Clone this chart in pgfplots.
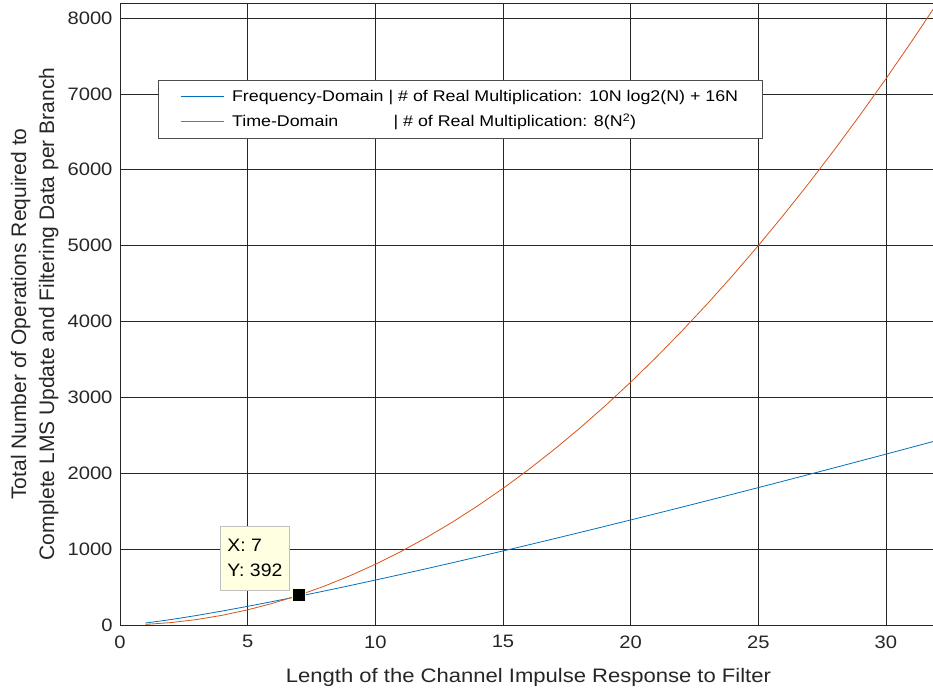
\documentclass[border=0pt]{standalone}
\usepackage{fontspec}
\setmainfont{Liberation Sans}
\newfontfamily\tickfont[FakeStretch=1.12]{Liberation Sans}
\newfontfamily\xlabfont[FakeStretch=1.13]{Liberation Sans}
\newfontfamily\legfont[FakeStretch=1.15]{Liberation Sans}
\newfontfamily\tipfont[FakeStretch=1.08]{Liberation Sans}
\usepackage{calc}
\usepackage{pgfplots}
\pgfplotsset{compat=1.18}

\definecolor{mblue}{rgb}{0,0.447,0.741}
\definecolor{morange}{rgb}{0.850,0.325,0.098}
\definecolor{tipfill}{RGB}{255,255,225}
\definecolor{axgray}{RGB}{38,38,38}

% Frequency-domain operation count per filter length N
\pgfplotstableread{
N ops
1 26
2 72
3 125.55
4 184
5 246.10
6 311.10
7 378.51
8 448
9 519.29
10 592.19
11 666.54
12 742.20
13 819.06
14 897.03
15 976.03
16 1056
17 1136.87
18 1218.59
19 1301.11
20 1384.39
21 1468.39
22 1553.08
23 1638.42
24 1724.39
25 1810.96
26 1898.11
27 1985.82
28 2074.06
29 2162.81
30 2252.07
31 2341.80
32 2432
}\freqtab

% Time-domain operation count per filter length N
\pgfplotstableread{
N ops
1 8
2 32
3 72
4 128
5 200
6 288
7 392
8 512
9 648
10 800
11 968
12 1152
13 1352
14 1568
15 1800
16 2048
17 2312
18 2592
19 2888
20 3200
21 3528
22 3872
23 4232
24 4608
25 5000
26 5408
27 5832
28 6272
29 6728
30 7200
31 7688
32 8192
}\timetab

\begin{document}
\begin{tikzpicture}
\begin{axis}[
  name=main,
  scale only axis,
  width=817pt, height=622pt,
  xmin=0, xmax=32, ymin=0, ymax=8198,
  xtick={0,5,...,30}, ytick={0,1000,...,8000},
  grid=major,
  major grid style={black!85, line width=0.6pt},
  axis line style={axgray, line width=0.6pt},
  tick style={axgray, line width=0.6pt},
  tick align=inside, major tick length=8pt,
  /pgf/number format/assume math mode=true,
  scaled y ticks=false,
  yticklabel style={/pgf/number format/1000 sep={}, xshift=-4pt},
  xticklabel style={yshift=-7pt},
  tick label style={font=\tickfont\fontsize{18}{21}\selectfont, text=axgray},
  xlabel={Length of the Channel Impulse Response to Filter},
  xlabel style={font=\xlabfont\fontsize{19.5}{23}\selectfont, text=axgray,
                at={(axis description cs:0.5,0)}, anchor=north, yshift=-40pt},
  ylabel={Total Number of Operations Required to\\Complete LMS Update and Filtering Data per Branch},
  ylabel style={align=center, font=\fontsize{21}{28}\selectfont, text=axgray,
                at={(axis description cs:0,0.5)}, anchor=south, yshift=58pt},
  legend cell align=left,
  legend style={
    at={(axis description cs:0.0465,0.876)}, anchor=north west,
    draw=black!70, line width=0.6pt,
    font=\legfont\fontsize{15.5}{18}\selectfont,
    inner xsep=22pt, inner ysep=8pt,
    row sep=7pt,
  },
  legend image code/.code={\draw[#1, line width=0.8pt] (0pt,0pt) -- (43pt,0pt);},
]
\addplot[mblue, line width=0.8pt] table[x=N, y=ops] {\freqtab};
\addlegendentry{\hspace*{6pt}Frequency-Domain | \# of Real Multiplication: 10N log2(N) + 16N}
\addplot[morange, line width=0.8pt] table[x=N, y=ops] {\timetab};
\addlegendentry{\hspace*{6pt}\makebox[\widthof{Frequency-Domain\ \ }][l]{Time-Domain}| \# of Real Multiplication: 8(N\textsuperscript{2})}

% data cursor at N = 7
\addplot[only marks, mark=square*, mark size=6.5pt,
  mark options={fill=black, draw=tipfill, line width=1pt},
  forget plot]
  coordinates {(7,392)}
  node[anchor=south east, xshift=-9pt, yshift=5pt,
       fill=tipfill, draw=black!25, line width=0.6pt,
       align=left, inner xsep=7pt, inner ysep=13pt,
       font=\tipfont\fontsize{18}{25}\selectfont, text=black]
  {X: 7\\Y: 392};
\end{axis}
% page frame: 120pt left of the axis, 67pt below, 3pt above, axis runs 4pt past the right edge
\pgfresetboundingbox
\path ([xshift=-120pt,yshift=-67pt]main.south west) rectangle ([xshift=-4pt,yshift=3pt]main.north east);
\end{tikzpicture}
\end{document}
